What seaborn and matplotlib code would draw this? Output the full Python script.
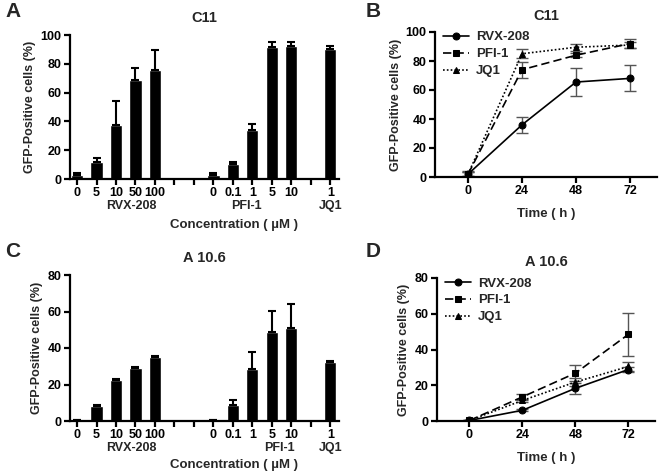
import matplotlib
matplotlib.use("Agg")
import matplotlib.pyplot as plt
import seaborn as sns
import numpy as np
import pandas as pd

sns.set_theme(style="ticks")
plt.rcParams['font.family'] = ['Liberation Sans', 'DejaVu Sans']
plt.rcParams['font.weight'] = 'bold'

# ---------------- data ----------------
bar_order = ["RVX 0", "RVX 5", "RVX 10", "RVX 50", "RVX 100", "gap1", "gap2",
             "PFI 0", "PFI 0.1", "PFI 1", "PFI 5", "PFI 10", "gap3", "JQ1 1"]
bar_ticklabels = ["0", "5", "10", "50", "100", "", "",
                  "0", "0.1", "1", "5", "10", "", "1"]
bar_cats = ["RVX 0", "RVX 5", "RVX 10", "RVX 50", "RVX 100",
            "PFI 0", "PFI 0.1", "PFI 1", "PFI 5", "PFI 10", "JQ1 1"]

c11_bar_mean = [3, 12, 37.5, 68.5, 75.5, 3, 10.5, 34, 92, 92.5, 90.5]
c11_bar_err = [1.2, 2.5, 17, 8.5, 14, 1.2, 1.0, 4.5, 3, 2.5, 2.2]

a106_bar_mean = [0.5, 8, 22.5, 29, 35, 0.5, 8.8, 28.3, 48.6, 51.1, 32.2]
a106_bar_err = [0.1, 0.9, 0.5, 0.5, 0.8, 0.1, 2.7, 9.3, 11.7, 12.9, 0.8]

group_labels = ["RVX-208", "PFI-1", "JQ1"]
group_pos_A = [2.8, 8.7, 13]
group_pos_C = [2.8, 10.4, 13]

time_h = [0, 24, 48, 72]
series = ["RVX-208", "PFI-1", "JQ1"]

c11_rvx = [2, 36, 65.5, 68]
c11_rvx_err = [2, 5.5, 9.5, 9]
c11_pfi = [2, 74, 84, 92]
c11_pfi_err = [1.5, 5.5, 1.5, 3]
c11_jq1 = [2, 85, 89.5, 91]
c11_jq1_err = [1.5, 3, 2.5, 2]

a106_rvx = [0.3, 6, 18.3, 28.8]
a106_rvx_err = [0.2, 0.5, 3, 1.5]
a106_pfi = [0.3, 13.5, 26.8, 48.5]
a106_pfi_err = [0.2, 1.5, 4.5, 12]
a106_jq1 = [0.3, 11.5, 21.8, 30.5]
a106_jq1_err = [0.2, 1, 2, 2.5]

# ---------------- figure ----------------
W, H = 660, 475
fig = plt.figure(figsize=(6.6, 4.75), dpi=100)


def px_axes(l, r, t, b):
    return fig.add_axes([l / W, 1 - b / H, (r - l) / W, (b - t) / H])


def style_axes(ax):
    for s in ["top", "right"]:
        ax.spines[s].set_visible(False)
    for s in ["left", "bottom"]:
        ax.spines[s].set_linewidth(1.6)
        ax.spines[s].set_color("black")
    ax.tick_params(axis="both", direction="out", length=4, width=1.6,
                   colors="black", labelsize=9, pad=2)
    for lab in ax.get_xticklabels() + ax.get_yticklabels():
        lab.set_fontweight("bold")


def bar_panel(ax, means, errs, ymax, title, gpos, conc_y):
    df = pd.DataFrame({"cat": bar_cats, "val": means})
    sns.barplot(data=df, x="cat", y="val", order=bar_order, color="black",
                width=0.62, saturation=1, ax=ax, errorbar=None)
    xs = [bar_order.index(c) for c in bar_cats]
    ax.errorbar(xs, means, yerr=[np.zeros(len(errs)), errs], fmt="none",
                ecolor="black", elinewidth=1.5, capsize=3, capthick=1.5)
    ax.set_xticks(range(len(bar_order)))
    ax.set_xticklabels(bar_ticklabels)
    ax.set_xlim(-0.36, 13.44)
    ax.set_ylim(0, ymax)
    ax.set_yticks(np.arange(0, ymax + 1, 20))
    ax.set_xlabel("")
    ax.set_ylabel("GFP-Positive cells (%)", fontsize=9, fontweight="bold",
                  labelpad=3)
    ax.set_title(title, fontsize=10.5, fontweight="bold", pad=9)
    style_axes(ax)
    for lab, gx in zip(group_labels, gpos):
        ax.annotate(lab, xy=(gx, 0), xycoords=("data", "axes fraction"),
                    xytext=(0, -27), textcoords="offset pixels",
                    ha="center", va="center", fontsize=9, fontweight="bold")
    ax.annotate("Concentration ( \u00b5M )", xy=(0.61, 0),
                xycoords="axes fraction", xytext=(0, conc_y),
                textcoords="offset pixels", ha="center", va="center",
                fontsize=9.5, fontweight="bold")


def line_panel(ax, vals, errs, ymax, title):
    rows = []
    for name, v in zip(series, vals):
        for t, y in zip(time_h, v):
            rows.append({"t": t, "y": y, "s": name})
    df = pd.DataFrame(rows)
    styles = {"RVX-208": ("-", "o", 5), "PFI-1": ((0, (5, 2.5)), "s", 5),
              "JQ1": ((0, (1, 1.3)), "^", 5)}
    for name, v, e in zip(series, vals, errs):
        ls, mk, ms = styles[name]
        ax.errorbar(time_h, v, yerr=e, fmt="none", ecolor="#555555",
                    elinewidth=1.0, capsize=4, capthick=1.0, zorder=2)
        sns.lineplot(data=df[df.s == name], x="t", y="y", ax=ax,
                     color="black", linestyle=ls, marker=mk, markersize=ms,
                     markeredgecolor="black", linewidth=1.2, label=name,
                     zorder=3)
    ax.set_xlim(-14.7, 84)
    ax.set_ylim(0, ymax)
    ax.set_xticks(time_h)
    ax.set_yticks(np.arange(0, ymax + 1, 20))
    ax.set_xlabel("Time ( h )", fontsize=9.5, fontweight="bold", labelpad=8)
    ax.set_ylabel("GFP-Positive cells (%)", fontsize=9, fontweight="bold",
                  labelpad=3)
    ax.set_title(title, fontsize=10.5, fontweight="bold", pad=9)
    style_axes(ax)
    leg = ax.legend(loc="upper left", bbox_to_anchor=(0.0, 1.06),
                    frameon=False, fontsize=9.5, handlelength=2.0,
                    handletextpad=0.5, labelspacing=0.35, borderaxespad=0.2)
    for t in leg.get_texts():
        t.set_fontweight("bold")


axA = px_axes(70, 339, 35, 179)
bar_panel(axA, c11_bar_mean, c11_bar_err, 100, "C11", group_pos_A, -46)

axC = px_axes(70, 339, 275, 421)
bar_panel(axC, a106_bar_mean, a106_bar_err, 80, "A 10.6", group_pos_C, -44)

axB = px_axes(435, 657, 32, 177)
line_panel(axB, [c11_rvx, c11_pfi, c11_jq1],
           [c11_rvx_err, c11_pfi_err, c11_jq1_err], 100, "C11")

axD = px_axes(437, 655, 278, 421)
line_panel(axD, [a106_rvx, a106_pfi, a106_jq1],
           [a106_rvx_err, a106_pfi_err, a106_jq1_err], 80, "A 10.6")

for letter, x, y in [("A", 5, 2), ("B", 366, 2), ("C", 5, 242), ("D", 366, 242)]:
    fig.text(x / W, 1 - y / H, letter, fontsize=15, fontweight="bold",
             ha="left", va="top")

fig.savefig("out.png", dpi=100)
